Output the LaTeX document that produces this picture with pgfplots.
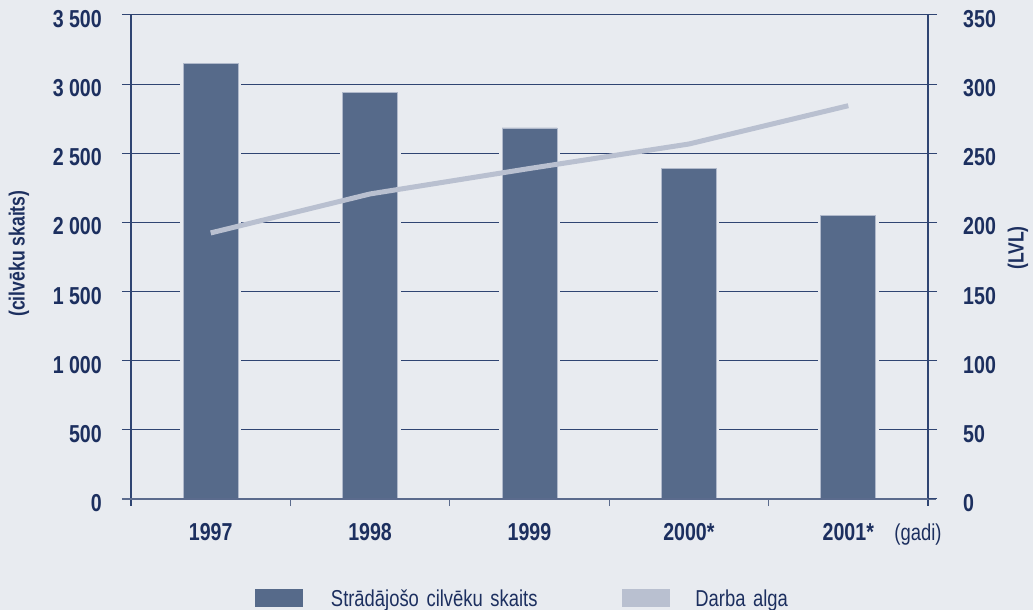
\documentclass[border=0pt]{standalone}
\usepackage{pgfplots}
\pgfplotsset{compat=1.18}
\usepackage{fontspec}
\setmainfont{Liberation Sans}
\newfontfamily\cf{Liberation Sans}[FakeStretch=0.8]
\definecolor{bg}{HTML}{E8EBF0}
\definecolor{navy}{HTML}{1C2F5F}
\definecolor{barc}{HTML}{566A8A}
\definecolor{baredge}{HTML}{B0B9CB}
\definecolor{linec}{HTML}{B9C0D0}
\definecolor{gridc}{HTML}{2F4472}
\definecolor{xaxc}{HTML}{5B6B8D}
\begin{document}
\begin{tikzpicture}
\fill[bg] (0,0) rectangle (1033pt,610pt);
\begin{axis}[
  at={(131pt,111pt)}, anchor=south west, scale only axis,
  width=797pt, height=484pt, clip=false,
  xmin=-0.5, xmax=4.5, ymin=0, ymax=3500,
  xtick={0,1,2,3,4}, xticklabels={1997,1998,1999,2000*,2001*},
  minor xtick={0.5,1.5,2.5,3.5},
  ytick={0,500,...,3500},
  yticklabels={0,500,1 000,1 500,2 000,2 500,3 000,3 500},
  tick align=outside, xtick pos=bottom, ytick pos=left,
  major tick length=9pt, minor tick length=7pt,
  major x tick style={draw=none},
  minor x tick style={xaxc, line width=1pt},
  ytick style={gridc, line width=1pt},
  ymajorgrids, major grid style={gridc, line width=1pt},
  axis line style={draw=none},
  ticklabel style={font=\cf\bfseries\fontsize{24.5}{25}\selectfont, text=navy},
  yticklabel style={anchor=east, inner sep=0pt, xshift=-20pt, yshift=-4pt},
  xticklabel style={anchor=base, inner sep=0pt, yshift=-32.5pt},
  ylabel={(cilvēku skaits)},
  ylabel style={at={(axis description cs:-0.1405,0.507)}, anchor=center,
    font=\cf\bfseries\fontsize{22}{22}\selectfont, text=navy},
  legend columns=2,
  legend style={at={(axis description cs:0.1518,-0.2045)}, anchor=west,
    draw=none, fill=none, inner sep=0pt, outer sep=0pt,
    font=\cf\fontsize{23}{23}\selectfont, text=navy,
    nodes={inner sep=0pt, text height=16.5pt, text depth=0pt, text width=291pt, align=left},
    /tikz/every odd column/.append style={column sep=26pt}},
]
\addplot[ybar, bar width=55pt, fill=barc, draw=baredge, line width=0.8pt,
  preaction={draw=bg, line width=6pt},
  legend image code/.code={\fill[barc] (0pt,-8.5pt) rectangle (47pt,8.5pt);}]
  coordinates {(0,3151) (1,2941) (2,2683) (3,2389) (4,2049)};
\addlegendentry{Strādājošo cilvēku skaits}
\addlegendimage{legend image code/.code={\fill[linec] (0pt,-8.5pt) rectangle (47pt,8.5pt);}}
\addlegendentry{Darba alga}
\draw[gridc, line width=1.3pt] (rel axis cs:0,1) -- (rel axis cs:0,0) -- ++(0pt,-7pt);
\draw[gridc, line width=1.3pt] (rel axis cs:1,1) -- (rel axis cs:1,0) -- ++(0pt,-7pt);
\draw[xaxc, line width=1.6pt] ([xshift=-9pt]rel axis cs:0,0) -- ([xshift=8pt]rel axis cs:1,0);
\node[anchor=base, inner sep=0pt, font=\cf\fontsize{23}{23}\selectfont, text=navy, xshift=-10pt, yshift=-41.5pt]
  at (rel axis cs:1,0) {(gadi)};
\end{axis}
\begin{axis}[
  at={(131pt,111pt)}, anchor=south west, scale only axis,
  width=797pt, height=484pt,
  xmin=-0.5, xmax=4.5, ymin=0, ymax=350,
  xtick=\empty, ytick={0,50,...,350}, ytick pos=right,
  yticklabels={0,50,100,150,200,250,300,350},
  tick align=outside, major tick length=9pt,
  ytick style={gridc, line width=1pt},
  axis line style={draw=none},
  yticklabel style={anchor=west, inner sep=0pt, xshift=26pt, yshift=-4pt,
    font=\cf\bfseries\fontsize{24.5}{25}\selectfont, text=navy},
  ylabel={(LVL)},
  ylabel style={at={(axis description cs:1.1129,0.5186)}, anchor=center,
    font=\cf\bfseries\fontsize{22}{22}\selectfont, text=navy},
]
\addplot[linec, line width=5pt, no markers]
  coordinates {(0,192.4) (1,220.6) (2,239) (3,256.7) (4,284.4)};
\end{axis}
\end{tikzpicture}
\end{document}
